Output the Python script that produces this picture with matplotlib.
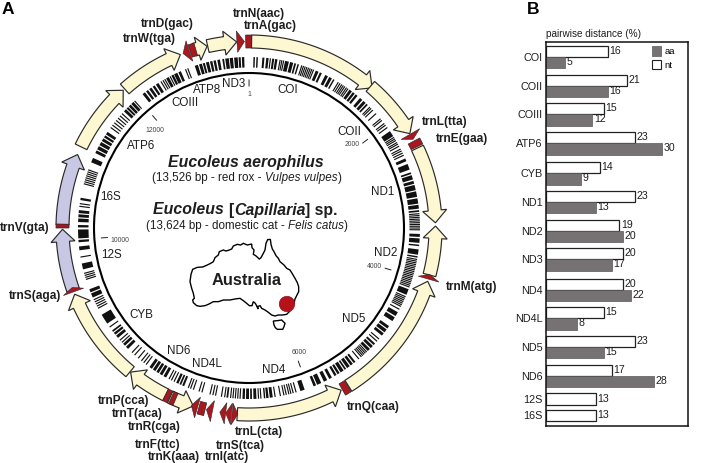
import numpy as np
import matplotlib
matplotlib.use('Agg')
import matplotlib.pyplot as plt
from matplotlib.patches import Polygon, Circle, Patch
from matplotlib.collections import PolyCollection

plt.rcParams['font.family'] = ['Liberation Sans', 'DejaVu Sans']

# ---------- panel B data ----------
genes = ['COI', 'COII', 'COIII', 'ATP6', 'CYB', 'ND1', 'ND2', 'ND3', 'ND4', 'ND4L', 'ND5', 'ND6', '12S', '16S']
nt_dist = [16, 21, 15, 23, 14, 23, 19, 20, 20, 15, 23, 17, 13, 13]
aa_dist = [5, 16, 12, 30, 9, 13, 20, 17, 22, 8, 15, 28, None, None]

# ---------- panel A data (angles in degrees clockwise from top) ----------
genome_bp = 13526
tick_bp = [1, 2000, 4000, 6000, 10000, 12000]

# name, start, tip, colour key
gene_arrows = [
    ('COI', 0.8, 41.3, 'y'), ('COII', 40.6, 59.6, 'y'), ('ND1', 64.6, 88.4, 'y'),
    ('ND2', 104.6, 89.4, 'y'), ('ND5', 147.8, 106.6, 'y'), ('ND4', 183.6, 150.4, 'y'),
    ('ND4L', 205.0, 197.4, 'y'), ('ND6', 206.5, 219.4, 'y'), ('CYB', 219.6, 249.2, 'y'),
    ('12S', 250.6, 269.6, 'l'), ('16S', 271.0, 293.2, 'l'), ('ATP6', 295.8, 317.6, 'y'),
    ('COIII', 318.2, 338.4, 'y'), ('ATP8', 343.0, 347.0, 'y'), ('ND3', 347.2, 356.2, 'y'),
]
# base angle, tip angle
trn_triangles = [
    (356.3, 358.6), (59.8, 61.6), (105.9, 104.4), (250.0, 251.4),
    (196.0, 198.0), (191.3, 193.2), (187.2, 189.0), (185.4, 187.2), (185.2, 183.4),
    (341.4, 339.3),
]
# start, end
trn_rects = [(359.0, 360.8), (62.2, 64.2), (148.0, 150.0), (203.2, 204.6), (205.2, 206.6),
             (193.6, 195.6), (270.0, 271.2), (341.6, 343.4)]

stripe_thin = [10.5, 11.1, 11.7, 18.0, 18.6, 19.2, 19.8, 20.4, 21.0, 21.6, 22.2, 31.5, 32.2, 32.9, 33.5, 34.1,
               34.8, 35.4, 45.0, 45.6, 46.4, 48.0, 50.3, 51.0, 52.3, 53.0, 54.0, 58.0, 58.6, 59.2, 60.0, 60.6,
               61.4, 62.5, 63.2, 64.0, 64.8, 85.2, 85.8, 86.4, 87.0, 87.6, 88.2, 88.8, 89.4, 90.0, 90.6,
               100.6, 101.2, 101.8, 102.4, 103.0, 103.6, 104.2, 104.8, 105.4, 106.0, 106.6, 107.2, 107.8,
               108.4, 109.0, 109.6, 110.2, 113.7, 114.3, 114.9, 115.5, 116.1, 116.7, 117.3, 118.4,
               130.5, 131.5, 136.5, 137.1, 137.7, 138.3, 138.9, 140.0,
               164.0, 165.0, 165.8, 166.5, 167.4, 168.2, 169.4, 171.2, 176.0, 176.8, 183.0, 183.8, 184.6,
               185.4, 186.2, 188.2, 189.3, 191.3, 192.2, 193.2, 196.0, 197.0, 199.0, 200.0, 200.8,
               206.0, 207.0, 207.9, 217.0, 218.0, 219.0, 220.4, 222.0, 223.2, 228.0, 229.0, 234.6,
               242.0, 242.8, 243.6, 244.4, 245.2, 252.5, 253.2, 253.9, 254.6, 260.2, 277.3, 278.2,
               285.0, 285.7, 286.4, 287.1, 287.8, 288.5, 289.2, 289.9,
               306.0, 307.0, 308.0, 309.0, 310.0, 311.0, 312.0, 318.0, 329.0, 329.8, 330.5, 332.5, 338.2, 339.0]
stripe_block = [(1.5, 2.0), (2.5, 3.0), (4.5, 5.2), (5.8, 6.6), (7.0, 7.4), (7.8, 8.5), (8.8, 9.6),
                (12.2, 13.5), (13.9, 15.0), (15.4, 16.0), (16.5, 17.0), (23.0, 24.0), (24.5, 25.2), (26.5, 27.5),
                (28.0, 29.0), (29.5, 30.0), (36.0, 37.0), (37.4, 38.2), (38.6, 39.4), (40.5, 41.5), (42.0, 43.0),
                (43.4, 44.0), (55.5, 57.5), (66.0, 67.0), (68.0, 70.0), (71.0, 71.6), (72.0, 73.5), (74.0, 75.0),
                (75.4, 77.2), (77.6, 79.5), (80.0, 81.8), (82.2, 83.5), (84.0, 84.6), (92.0, 93.0), (93.5, 95.0),
                (95.6, 96.1), (97.2, 99.0), (99.5, 100.0), (111.0, 113.0), (119.5, 121.0), (121.5, 123.0),
                (125.0, 126.0), (126.4, 127.6), (128.0, 129.0), (132.5, 133.2), (133.6, 134.6), (135.0, 136.0),
                (141.5, 142.2), (142.6, 143.5), (143.9, 145.0), (145.4, 146.0), (146.4, 147.6), (148.0, 148.8),
                (149.2, 150.0), (151.0, 152.0), (152.8, 154.0), (155.0, 156.5), (156.9, 157.8), (161.0, 162.5),
                (172.0, 173.0), (173.4, 174.2), (174.5, 175.0), (177.5, 178.5), (179.0, 179.6), (180.0, 181.0),
                (181.4, 182.2), (187.0, 187.6), (202.3, 203.0), (203.4, 204.0), (204.4, 205.2), (209.0, 210.0),
                (210.5, 211.5), (211.9, 212.8), (213.2, 214.2), (214.6, 215.6), (225.0, 226.0), (226.5, 227.4),
                (230.0, 231.0), (231.4, 232.2), (232.6, 233.2), (236.0, 239.5), (246.0, 247.5), (247.9, 249.0),
                (256.0, 258.0), (262.5, 263.8), (265.2, 266.0), (266.5, 269.5), (270.2, 271.0), (272.0, 273.2),
                (273.6, 274.6), (275.0, 276.0), (279.4, 280.2), (292.6, 294.2), (296.0, 297.0), (297.4, 298.6),
                (299.0, 300.2), (300.6, 301.6), (302.0, 302.8), (303.2, 304.2), (313.0, 314.0), (314.3, 315.0),
                (315.3, 316.2), (316.5, 317.5), (321.5, 322.5), (323.0, 323.8), (324.3, 325.2), (325.7, 326.5),
                (327.0, 328.0), (331.0, 332.0), (333.0, 333.8), (334.0, 335.2), (335.6, 336.5), (341.5, 342.6),
                (343.0, 344.0), (344.3, 345.0), (345.4, 346.4), (346.8, 347.6), (348.0, 348.8), (349.3, 350.2),
                (351.0, 351.6), (352.0, 353.2), (353.5, 354.6), (355.0, 356.2), (356.5, 357.2), (357.6, 358.4)]

trn_labels = [
    ('trnN(aac)', 259, 14), ('trnA(gac)', 270, 26), ('trnD(gac)', 167, 24), ('trnW(tga)', 149, 39),
    ('trnL(tta)', 445, 122), ('trnE(gaa)', 462, 139), ('trnM(atg)', 472, 287), ('trnQ(caa)', 373, 407),
    ('trnL(cta)', 259, 432), ('trnS(tca)', 240, 446), ('trnI(atc)', 227, 457), ('trnP(cca)', 124, 401),
    ('trnT(aca)', 137, 414), ('trnR(cga)', 154, 427), ('trnF(ttc)', 158, 445), ('trnK(aaa)', 174, 457),
    ('trnS(aga)', 35, 296), ('trnV(gta)', 25, 228),
]
gene_labels = [
    ('COI', 288, 90), ('COII', 349, 132), ('ND1', 383, 192), ('ND2', 386, 253), ('ND5', 354, 319),
    ('ND4', 274, 370), ('ND4L', 207, 364), ('ND6', 179, 351), ('CYB', 141, 315), ('12S', 112, 255),
    ('16S', 111, 197), ('ATP6', 141, 146), ('COIII', 185, 103), ('ATP8', 207, 90), ('ND3', 234, 84),
]
tick_labels = [('1', 249, 94), ('2000', 352, 144), ('4000', 374, 266), ('6000', 299, 353),
               ('10000', 120, 241), ('12000', 155, 130)]

# Australia outline (figure pixels relative to map corner, x3)
aus_x = [0, 3, 8, 22, 38, 52, 62, 70, 75, 85, 88, 100, 108, 115, 125, 130, 142, 152, 160, 172, 185, 186, 192, 190,
         197, 208, 213, 220, 225, 228, 233, 241, 243, 247, 252, 258, 265, 270, 282, 290, 300, 308, 315, 322, 326,
         326, 320, 315, 312, 306, 300, 290, 278, 265, 255, 245, 235, 225, 215, 210, 202, 205, 196, 190, 186, 178,
         170, 160, 150, 135, 120, 100, 85, 70, 55, 45, 30, 20, 10, 8, 13, 10, 5, 0]
aus_y = [140, 118, 103, 97, 96, 90, 85, 80, 68, 60, 50, 45, 48, 46, 42, 33, 28, 30, 25, 30, 27, 38, 45, 58,
         62, 72, 68, 55, 45, 25, 14, 13, 28, 42, 50, 62, 70, 80, 90, 100, 105, 118, 130, 143, 155,
         170, 182, 192, 205, 218, 228, 238, 240, 240, 243, 240, 232, 225, 220, 212, 215, 222, 205, 200, 212, 212,
         205, 197, 190, 192, 195, 195, 200, 200, 208, 212, 214, 212, 203, 195, 190, 175, 160, 140]
tas_x = [250, 262, 275, 285, 282, 278, 262, 256, 252]
tas_y = [258, 257, 255, 265, 275, 283, 283, 278, 270]

# ---------- styles ----------
CX, CY = 249.0, 228.0
R_MID, HALF, HEAD_HALF = 186.5, 6.5, 12.0
COL = {'y': '#FDF8D2', 'l': '#C9C8E4'}
RED = '#A9171F'
EDGE = '#2A2A2A'
TXT = '#1E1E1E'

fig = plt.figure(figsize=(7.11, 4.63), dpi=100)
ax = fig.add_axes([0, 0, 1, 1])
ax.set_xlim(0, 711)
ax.set_ylim(463, 0)
ax.axis('off')


def pt(r, a):
    t = np.deg2rad(a)
    return CX + r * np.sin(t), CY - r * np.cos(t)


def arc(r, a0, a1, n=40):
    return [pt(r, a) for a in np.linspace(a0, a1, n)]


def gene_arrow(start, tip, col, head_deg=3.8):
    s = 1 if tip > start else -1
    base = tip - s * head_deg
    if abs(tip - start) < head_deg + 0.5:
        base = start + s * 1.0
    p = arc(R_MID + HALF, start, base) + [pt(R_MID + HEAD_HALF, base), pt(R_MID, tip),
                                           pt(R_MID - HEAD_HALF, base)] + arc(R_MID - HALF, base, start)
    ax.add_patch(Polygon(p, closed=True, fc=col, ec=EDGE, lw=0.85, joinstyle='miter', zorder=2))


for name, a0, a1, c in gene_arrows:
    gene_arrow(a0, a1, COL[c])

for a0, a1 in trn_rects:
    p = arc(R_MID + HALF, a0, a1, 6) + arc(R_MID - HALF, a1, a0, 6)
    ax.add_patch(Polygon(p, closed=True, fc=RED, ec=EDGE, lw=0.5, zorder=3))
for a0, a1 in trn_triangles:
    p = [pt(R_MID + 11, a0), pt(R_MID, a1), pt(R_MID - 10.5, a0)]
    ax.add_patch(Polygon(p, closed=True, fc=RED, ec=EDGE, lw=0.4, zorder=3))

# stripes
polys = []
for a in stripe_thin:
    polys.append(arc(171, a - 0.2, a + 0.2, 2) + arc(160.5, a + 0.2, a - 0.2, 2))
for a0, a1 in stripe_block:
    polys.append(arc(171, a0, a1, 3) + arc(160.5, a1, a0, 3))
ax.add_collection(PolyCollection(polys, facecolors='#111111', edgecolors='none', zorder=2))

# inner circle
ax.add_patch(Circle((CX, CY), 155, fc='none', ec='black', lw=1.5, zorder=2))

# scale ticks
for bp in tick_bp:
    a = bp / genome_bp * 360
    (x0, y0), (x1, y1) = pt(142, a), pt(148, a)
    ax.plot([x0, x1], [y0, y1], color='#222222', lw=0.7, zorder=2)
for t, x, y in tick_labels:
    ax.text(x, y, t, fontsize=4.9, color='#444444', ha='center', va='center')

for t, x, y in trn_labels:
    ax.text(x, y, t, fontsize=8.6, fontweight='bold', color=TXT, ha='center', va='center')
for t, x, y in gene_labels:
    ax.text(x, y, t, fontsize=8.4, color=TXT, ha='center', va='center')

ax.text(1.5, 10, 'A', fontsize=12.5, fontweight='bold', color='black', ha='left', va='center')
ax.text(527, 9, 'B', fontsize=12.5, fontweight='bold', color='black', ha='left', va='center')


def mixed(xc, y, parts, size):
    """Centred one-line text assembled from differently styled runs."""
    r = fig.canvas.get_renderer()
    arts = []
    total = 0
    for s, w, st in parts:
        t = ax.text(0, y, s, fontsize=size, fontweight=w, fontstyle=st, color=TXT, ha='left', va='center')
        wd = ax.transData.inverted().transform(t.get_window_extent(r))
        dx = wd[1, 0] - wd[0, 0]
        arts.append((t, dx))
        total += dx
    x = xc - total / 2
    for t, dx in arts:
        t.set_x(x)
        x += dx


mixed(245.5, 162, [('Eucoleus aerophilus', 'bold', 'italic')], 11.4)
mixed(247, 178, [('(13,526 bp - red rox - ', 'normal', 'normal'), ('Vulpes vulpes', 'normal', 'italic'),
                 (')', 'normal', 'normal')], 8.4)
mixed(245.5, 210, [('Eucoleus ', 'bold', 'italic'), ('[', 'bold', 'normal'), ('Capillaria', 'bold', 'italic'),
                   ('] sp.', 'bold', 'normal')], 11.4)
mixed(246.5, 226, [('(13,624 bp - domestic cat - ', 'normal', 'normal'), ('Felis catus', 'normal', 'italic'),
                   (')', 'normal', 'normal')], 8.4)

# map
mx = 190 + np.array(aus_x) / 3
my = 235 + np.array(aus_y) / 3
ax.add_patch(Polygon(np.c_[mx, my], closed=True, fc='white', ec='black', lw=1.0, zorder=3))
ax.add_patch(Polygon(np.c_[190 + np.array(tas_x) / 3, 235 + np.array(tas_y) / 3], closed=True, fc='white',
                     ec='black', lw=1.0, zorder=3))
ax.text(247, 280.5, 'Australia', fontsize=11.8, fontweight='bold', color=TXT, ha='center', va='center', zorder=4)
ax.add_patch(Circle((287, 304), 7.8, fc='#B5121B', ec='#8a1015', lw=0.4, zorder=4))

# ---------- panel B ----------
L, R, T, B = 545.5, 687.5, 41.7, 426.0
axb = fig.add_axes([L / 711, 1 - B / 463, (R - L) / 711, (B - T) / 463])
UNIT = 3.85
axb.set_xlim(0, (R - L) / UNIT)
axb.set_ylim(B, T)   # vertical axis runs in figure pixels so the uneven group spacing carries over
group_top = [46, 74.7, 103.3, 132.3, 162.3, 191, 220, 248.3, 278.7, 307.3, 335.7, 364.7, 393.3, 410]
nt_h = [10.9] * 12 + [11.4, 10.7]
AA_H = 11.3
y_nt, y_aa, lab_y = [], [], []
for top, h, aa, g in zip(group_top, nt_h, aa_dist, genes):
    y_nt.append(top + h / 2)
    y_aa.append(top + h + AA_H / 2)
    lab_y.append(top + h if aa is not None else top + h / 2)
axb.barh(y_nt, nt_dist, height=nt_h, color='white', edgecolor='#222222', linewidth=0.9, left=0.15)
aa_y = [y for y, v in zip(y_aa, aa_dist) if v is not None]
aa_v = [v for v in aa_dist if v is not None]
axb.barh(aa_y, aa_v, height=AA_H, color='#767273', edgecolor='#5a5758', linewidth=0.5, left=0.15)
for y, v in zip(y_nt, nt_dist):
    axb.text(v + 0.55, y - 0.5, str(v), fontsize=7.6, color=TXT, va='center', ha='left')
for y, v in zip(aa_y, aa_v):
    axb.text(v + 0.55, y - 0.5, str(v), fontsize=7.6, color=TXT, va='center', ha='left')
axb.set_yticks(lab_y)
axb.set_yticklabels(genes, fontsize=7.8, color=TXT)
axb.tick_params(axis='y', length=0, pad=2.2)
axb.set_xticks([])
for s in axb.spines.values():
    s.set_linewidth(1.1)
    s.set_color('#111111')
axb.text(0, 1.007, 'pairwise distance (%)', transform=axb.transAxes, fontsize=7.2, color=TXT, ha='left', va='bottom')
axb.legend(handles=[Patch(fc='#767273', ec='#5a5758', lw=0.5, label='aa'), Patch(fc='white', ec='#222222', lw=0.8, label='nt')],
           loc='upper left', bbox_to_anchor=(0.735, 0.9925), frameon=False, fontsize=6.8, handlelength=1.0,
           handleheight=1.2, handletextpad=0.35, labelspacing=0.32, borderpad=0.2, borderaxespad=0)

fig.savefig('out.png', dpi=100)
